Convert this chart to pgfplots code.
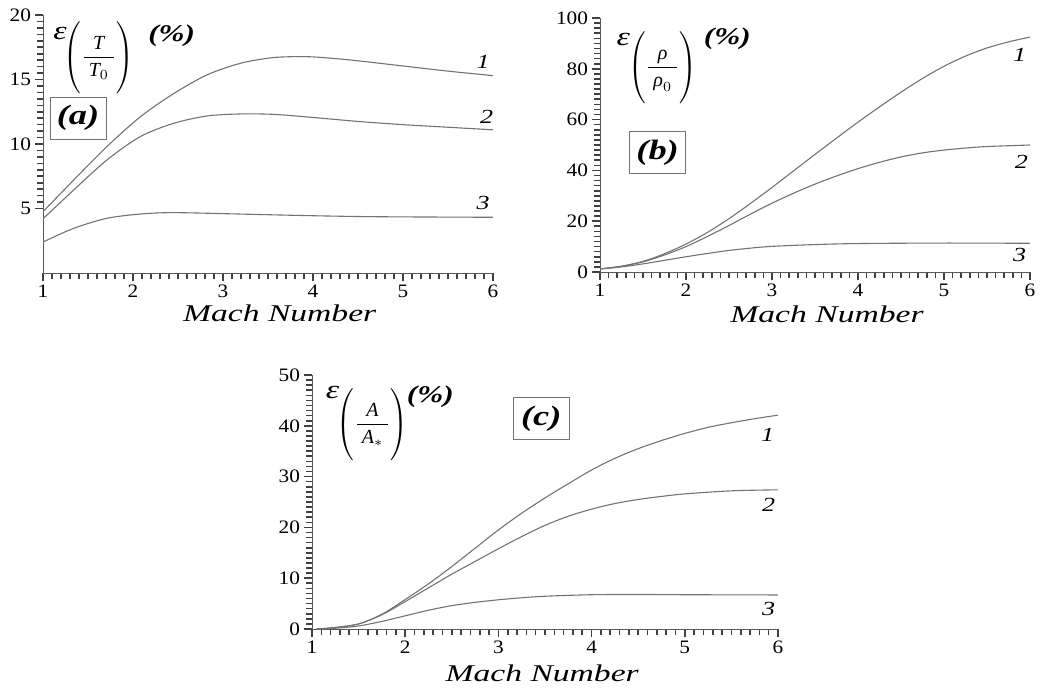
\documentclass[border=0pt]{standalone}
\usepackage{fontspec}
\setmainfont{Liberation Serif}
\newfontfamily\tickfont[FakeStretch=1.12]{Liberation Serif}
\newfontfamily\wide[FakeStretch=1.3]{Liberation Serif}
\newfontfamily\widelab[FakeStretch=1.4]{Liberation Serif}
\usepackage{pgfplots}
\pgfplotsset{compat=1.18}
\pgfplotsset{
  panel/.style={
    scale only axis,
    axis x line*=bottom, axis y line*=left,
    axis line style={black!65,line width=0.5pt},
    tick align=outside,
    major tick length=4pt,
    minor tick length=3pt,
    every tick/.style={black!75,line width=0.8pt},
    minor x tick num=9,
    minor y tick num=9,
    xmin=1,xmax=6,
    xtick={1,2,3,4,5,6},
    clip mode=individual,
    /pgf/number format/assume math mode=true,
    ticklabel style={font=\tickfont\fontsize{9.5}{10}\selectfont,inner sep=1.8pt},
  },
  curve/.style={black!55,line width=0.55pt,smooth,no marks},
}
\newcommand{\clab}[1]{{\wide\itshape\fontsize{10}{10}\selectfont #1}}
\newcommand{\pct}{{\wide\bfseries\itshape\fontsize{12}{12}\selectfont (\%)}}
\newcommand{\eps}{{\wide\itshape\fontsize{13}{13}\selectfont ε}}
\newcommand{\mlab}{{\widelab\itshape\fontsize{12}{12}\selectfont Mach Number}}
\newcommand{\pfrac}[2]{\fontsize{10}{10}\selectfont$\left(\vrule height 14.5pt depth 14.5pt width 0pt\displaystyle\frac{\hspace{2.5pt}#1\hspace{2.5pt}}{\hspace{2.5pt}#2\hspace{2.5pt}}\right)$}
\tikzset{pbox/.style={draw=black!55,line width=0.5pt,minimum width=28pt,minimum height=21pt,inner sep=0pt,font=\wide\bfseries\itshape\fontsize{14}{14}\selectfont}}
\begin{document}
\begin{tikzpicture}
\path[use as bounding box] (0pt,0pt) rectangle (528.5pt,-343.5pt);
% ---------------- (a)
\begin{axis}[panel, at={(21.5pt,-136.5pt)}, anchor=south west,
  width=225pt, height=129pt, ymin=0, ymax=20, ytick={5,10,15,20}]
\addplot[curve] coordinates {(1,4.75)(1.34,7.2)(1.71,9.8)(2.08,12.1)(2.45,13.9)(2.82,15.35)(3.19,16.25)(3.56,16.7)(3.93,16.77)(4.25,16.62)(4.5,16.45)(5,16.05)(5.5,15.65)(6,15.3)};
\addplot[curve] coordinates {(1,4.2)(1.34,6.43)(1.71,8.76)(2.08,10.57)(2.45,11.6)(2.82,12.17)(3.19,12.33)(3.56,12.3)(3.93,12.1)(4.5,11.75)(5,11.5)(5.5,11.3)(6,11.1)};
\addplot[curve] coordinates {(1,2.4)(1.34,3.46)(1.71,4.24)(2.08,4.57)(2.45,4.68)(3.19,4.57)(3.93,4.45)(4.5,4.38)(5,4.35)(6,4.32)};
\node at (axis cs:5.89,16.4) {\clab{1}};
\node at (axis cs:5.93,12.1) {\clab{2}};
\node at (axis cs:5.89,5.4) {\clab{3}};
\node at (axis cs:1.19,18.6) {\eps};
\node at (axis cs:1.62,16.7) {\pfrac{\textit{T}}{\textit{T}_{0}}};
\node at (axis cs:2.43,18.4) {\pct};
\node[pbox] at (axis cs:1.39,12.0) {(a)};
\node at (axis cs:3.63,-3.1) {\mlab};
\end{axis}
% ---------------- (b)
\begin{axis}[panel, at={(300pt,-136pt)}, anchor=south west,
  width=215pt, height=127pt, ymin=0, ymax=100, ytick={0,20,40,60,80,100}]
\addplot[curve] coordinates {(1,1.2)(1.25,2.3)(1.5,4.2)(1.75,7.2)(2,11)(2.25,15.6)(2.5,21)(2.75,27)(3,33.3)(3.25,39.8)(3.5,46.3)(3.75,52.7)(4,59)(4.25,65)(4.5,70.8)(4.75,76.2)(5,81)(5.25,85)(5.5,88.2)(5.75,90.6)(6,92.5)};
\addplot[curve] coordinates {(1,1.2)(1.25,2.2)(1.5,4)(1.75,6.7)(2,10)(2.25,14)(2.5,18.3)(2.75,22.8)(3,27.1)(3.25,31)(3.5,34.6)(3.75,37.8)(4,40.7)(4.25,43.2)(4.5,45.3)(4.75,46.9)(5,48)(5.25,48.8)(5.5,49.4)(6,50)};
\addplot[curve] coordinates {(1,1.2)(1.25,2)(1.5,3.2)(1.75,4.6)(2,6)(2.25,7.3)(2.5,8.5)(2.75,9.4)(3,10.1)(3.5,10.8)(4,11.2)(5,11.4)(6,11.3)};
\node at (axis cs:5.88,85.4) {\clab{1}};
\node at (axis cs:5.9,43.3) {\clab{2}};
\node at (axis cs:5.88,6.7) {\clab{3}};
\node at (axis cs:1.27,91.7) {\eps};
\node at (axis cs:1.73,80.5) {\pfrac{\textit{ρ}}{\textit{ρ}_{0}}};
\node at (axis cs:2.48,92.0) {\pct};
\node[pbox] at (axis cs:1.67,46.9) {(b)};
\node at (axis cs:3.64,-16.5) {\mlab};
\end{axis}
% ---------------- (c)
\begin{axis}[panel, at={(156pt,-314.5pt)}, anchor=south west,
  width=233pt, height=127pt, ymin=0, ymax=50, ytick={0,10,20,30,40,50}]
\addplot[curve] coordinates {(1.05,0)(1.25,0.3)(1.5,1.0)(1.75,2.9)(2,5.8)(2.25,8.9)(2.5,12.3)(2.75,15.9)(3,19.5)(3.25,22.8)(3.5,25.8)(3.75,28.6)(4,31.3)(4.25,33.6)(4.5,35.5)(4.75,37.1)(5,38.5)(5.25,39.7)(5.5,40.6)(5.75,41.4)(6,42.1)};
\addplot[curve] coordinates {(1.05,0)(1.25,0.3)(1.5,1.0)(1.75,2.8)(2,5.4)(2.25,8.1)(2.5,10.8)(2.75,13.3)(3,15.8)(3.25,18.2)(3.5,20.4)(3.75,22.2)(4,23.6)(4.25,24.7)(4.5,25.5)(4.75,26.1)(5,26.6)(5.5,27.2)(6,27.4)};
\addplot[curve] coordinates {(1.05,0)(1.25,0.15)(1.5,0.6)(1.75,1.5)(2,2.6)(2.25,3.7)(2.5,4.6)(2.75,5.25)(3,5.75)(3.25,6.15)(3.5,6.45)(4,6.75)(4.5,6.8)(5,6.75)(6,6.7)};
\node at (axis cs:5.89,38.2) {\clab{1}};
\node at (axis cs:5.9,24.4) {\clab{2}};
\node at (axis cs:5.9,3.9) {\clab{3}};
\node at (axis cs:1.22,46.6) {\eps};
\node at (axis cs:1.65,40.2) {\pfrac{\textit{A}}{\textit{A}_{*}}};
\node at (axis cs:2.27,45.8) {\pct};
\node[pbox] at (axis cs:3.46,41.4) {(c)};
\node at (axis cs:3.47,-8.7) {\mlab};
\end{axis}
\end{tikzpicture}
\end{document}
